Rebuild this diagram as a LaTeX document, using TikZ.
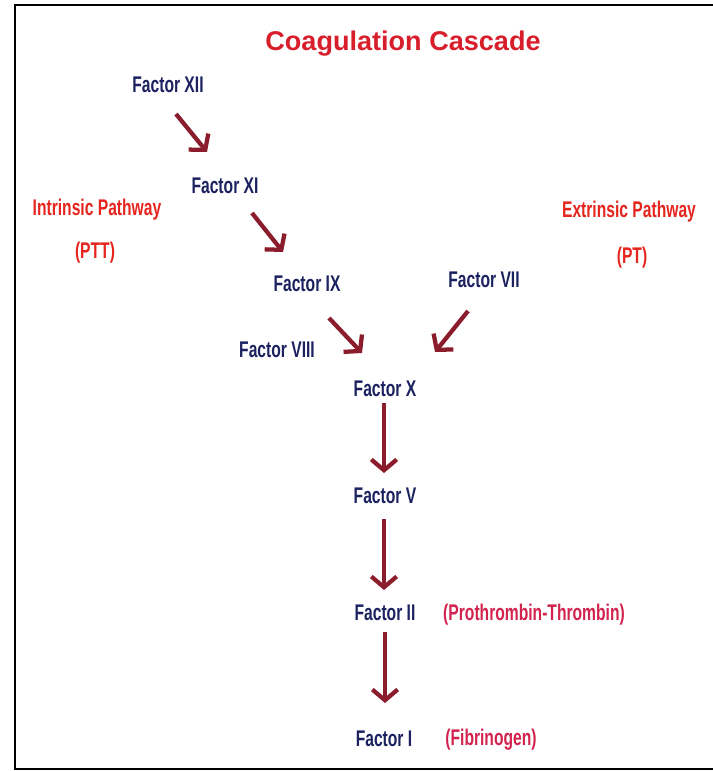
\documentclass[tikz,border=0pt]{standalone}
\usepackage{fontspec}
\setmainfont{Liberation Sans}
\newfontfamily\handfont{Liberation Sans}[FakeStretch=0.69]
\usetikzlibrary{arrows.meta}
\definecolor{factorblue}{HTML}{1C2260}
\definecolor{pathred}{HTML}{E4261E}
\definecolor{titlered}{HTML}{D81E2A}
\definecolor{notered}{HTML}{D2234E}
\definecolor{arrowred}{HTML}{8A1C2C}

\begin{document}
\begin{tikzpicture}[x=0.75pt,y=-0.75pt,
    factor/.style={anchor=base,inner sep=0pt,text=factorblue,
      font=\handfont\bfseries\fontsize{17}{20}\selectfont},
    pathway/.style={factor,text=pathred},
    note/.style={factor,text=notered},
    cascade/.style={draw=arrowred,line width=3.2pt,
      -{Straight Barb[length=8pt,width=19pt,line width=3.2pt]}}]
    \useasboundingbox (0,0) rectangle (713,771);
    \fill[white] (0,0) rectangle (713,771);
    % frame, open on the right
    \draw[line width=2.2pt] (713,5) -- (15,5) -- (15,769) -- (713,769);
    % title
    \node[anchor=base,inner sep=0pt,text=titlered,
      font=\bfseries\fontsize{20.3}{24}\selectfont] (title) at (403,50) {Coagulation Cascade};
    % intrinsic branch
    \node[factor] (xii) at (168,92) {Factor XII};
    \node[factor] (xi) at (225,193) {Factor XI};
    \node[factor] (ix) at (307,291) {Factor IX};
    \node[factor] (viii) at (277,357) {Factor VIII};
    % extrinsic branch
    \node[factor] (vii) at (484,287) {Factor VII};
    % common pathway
    \node[factor] (x) at (385,396) {Factor X};
    \node[factor] (v) at (385,503) {Factor V};
    \node[factor] (ii) at (385,620) {Factor II};
    \node[factor] (i) at (384,746) {Factor I};
    % side labels
    \node[pathway] (intrinsic) at (97,215) {Intrinsic Pathway};
    \node[pathway] (ptt) at (95,258) {(PTT)};
    \node[pathway] (extrinsic) at (629,217) {Extrinsic Pathway};
    \node[pathway] (pt) at (632,263) {(PT)};
    \node[note] (thrombin) at (534,620) {(Prothrombin-Thrombin)};
    \node[note] (fibrinogen) at (491,745) {(Fibrinogen)};
    % arrows
    \draw[cascade] ([shift={(8,22)}]xii.base) -- ([shift={(-18,-41)}]xi.base);
    \draw[cascade] ([shift={(27,20)}]xi.base) -- ([shift={(-24,-39)}]ix.base);
    \draw[cascade] ([shift={(22,27)}]ix.base) -- ([shift={(-23,-43)}]x.base);
    \draw[cascade] ([shift={(-16,24)}]vii.base) -- ([shift={(50,-44)}]x.base);
    \draw[cascade] ([shift={(-1,7)}]x.base) -- ([shift={(-1,-30)}]v.base);
    \draw[cascade] ([shift={(-1,16)}]v.base) -- ([shift={(-1,-30)}]ii.base);
    \draw[cascade] ([shift={(0,12)}]ii.base) -- ([shift={(1,-43)}]i.base);
\end{tikzpicture}
\end{document}
